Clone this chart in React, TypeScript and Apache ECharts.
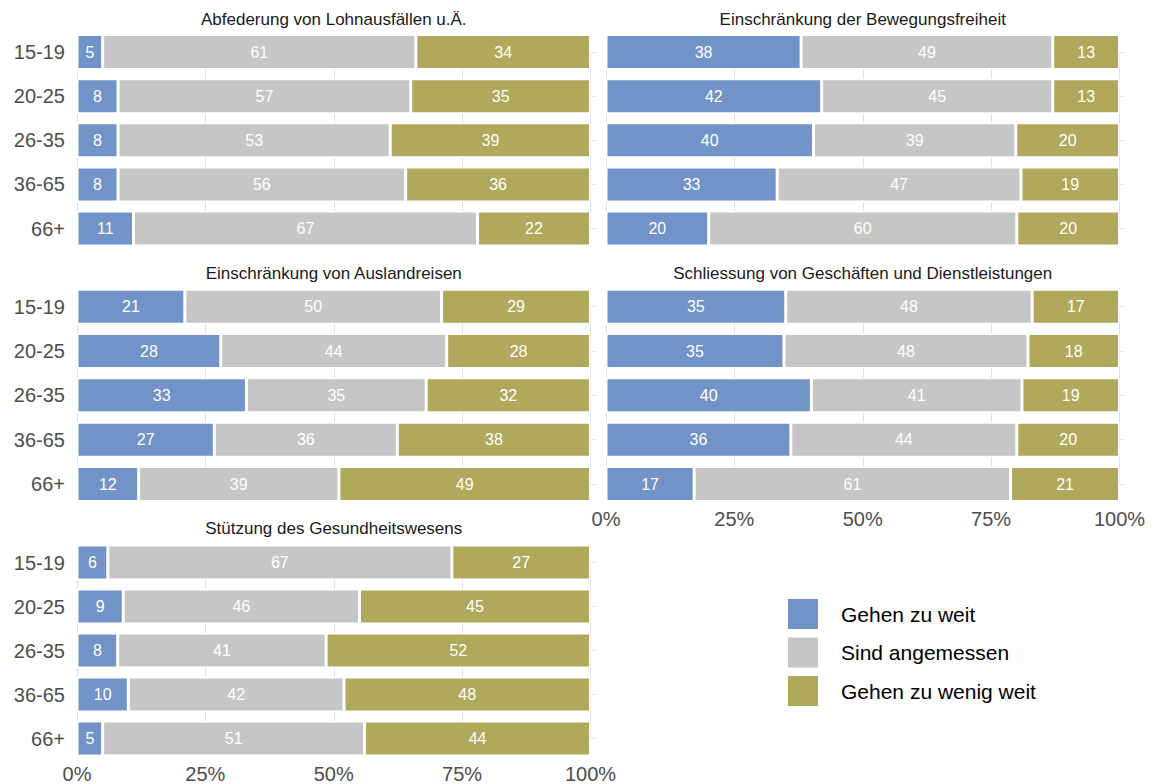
import React, { useEffect, useRef } from "react";
import * as echarts from "echarts";

// ---------- data ----------
const ages = ["15-19", "20-25", "26-35", "36-65", "66+"];
const answerNames = ["Gehen zu weit", "Sind angemessen", "Gehen zu wenig weit"];
const panelTitles = [
  "Abfederung von Lohnausfällen u.Ä.",
  "Einschränkung der Bewegungsfreiheit",
  "Einschränkung von Auslandreisen",
  "Schliessung von Geschäften und Dienstleistungen",
  "Stützung des Gesundheitswesens",
];
const tickLabels = ["0%", "25%", "50%", "75%", "100%"];

const lohnWeit = [5, 8, 8, 8, 11];
const lohnAngemessen = [61, 57, 53, 56, 67];
const lohnWenig = [34, 35, 39, 36, 22];

const bewegungWeit = [38, 42, 40, 33, 20];
const bewegungAngemessen = [49, 45, 39, 47, 60];
const bewegungWenig = [13, 13, 20, 19, 20];

const reisenWeit = [21, 28, 33, 27, 12];
const reisenAngemessen = [50, 44, 35, 36, 39];
const reisenWenig = [29, 28, 32, 38, 49];

const geschaefteWeit = [35, 35, 40, 36, 17];
const geschaefteAngemessen = [48, 48, 41, 44, 61];
const geschaefteWenig = [17, 18, 19, 20, 21];

const gesundheitWeit = [6, 9, 8, 10, 5];
const gesundheitAngemessen = [67, 46, 41, 42, 51];
const gesundheitWenig = [27, 45, 52, 48, 44];

const panelData = [
  [lohnWeit, lohnAngemessen, lohnWenig],
  [bewegungWeit, bewegungAngemessen, bewegungWenig],
  [reisenWeit, reisenAngemessen, reisenWenig],
  [geschaefteWeit, geschaefteAngemessen, geschaefteWenig],
  [gesundheitWeit, gesundheitAngemessen, gesundheitWenig],
];

// ---------- style ----------
const colors = ["#7193c7", "#c6c6c6", "#b0a85a"];
const FONT = "'Liberation Sans', Arial, Helvetica, sans-serif";
const AXIS_MAX = 101;

// panel layout
const colLeft = [77, 606];
const col100 = 513.5;
const rowTop = [52, 306.7, 562.5];
const rowHeight = [176.5, 177.3, 176];
const panelPos = [
  [0, 0],
  [1, 0],
  [0, 1],
  [1, 1],
  [0, 2],
];
const showXLabels = [false, false, false, true, true];
const titleY = [19, 273, 528];

export default function App() {
  const ref = useRef<HTMLDivElement>(null);

  useEffect(() => {
    document.body.style.margin = "0";
    if (!ref.current) return;
    const chart = echarts.init(ref.current, undefined, { renderer: "svg" });

    const grids: any[] = [];
    const xAxes: any[] = [];
    const yAxes: any[] = [];
    const series: any[] = [];
    const graphics: any[] = [];

    panelPos.forEach(([c, r], i) => {
      grids.push({
        left: colLeft[c],
        top: rowTop[r],
        width: (col100 * AXIS_MAX) / 100,
        height: rowHeight[r],
        containLabel: false,
      });
      xAxes.push({
        type: "value",
        gridIndex: i,
        min: 0,
        max: AXIS_MAX,
        interval: 25,
        axisLine: { show: false },
        axisTick: { show: false },
        splitLine: {
          show: true,
          lineStyle: {
            color: ["#e0e0e0", "#e0e0e0", "#e0e0e0", "#e0e0e0", "#e0e0e0", "rgba(0,0,0,0)"],
            width: 1,
          },
        },
        axisLabel: {
          show: showXLabels[i],
          fontSize: 20,
          fontFamily: FONT,
          color: "#4d4d4d",
          margin: 25,
          showMaxLabel: false,
          formatter: (v: number) => (v % 25 === 0 ? tickLabels[v / 25] : ""),
        },
      });
      yAxes.push({
        type: "category",
        gridIndex: i,
        data: ages,
        inverse: true,
        boundaryGap: false,
        axisLine: { show: false },
        axisTick: { show: false },
        splitLine: { show: true, interval: 0, lineStyle: { color: "#e3e3e3", width: 1 } },
        axisLabel: {
          show: c === 0,
          interval: 0,
          fontSize: 20,
          fontFamily: FONT,
          color: "#4d4d4d",
          margin: 12,
        },
      });

      const vals = panelData[i];
      const sums = ages.map((_, a) => vals[0][a] + vals[1][a] + vals[2][a]);
      vals.forEach((arr, k) => {
        series.push({
          type: "bar",
          name: answerNames[k],
          xAxisIndex: i,
          yAxisIndex: i,
          stack: "panel" + i,
          barWidth: 35,
          clip: false,
          itemStyle: { color: colors[k], borderColor: "#ffffff", borderWidth: 1.5 },
          label: {
            show: true,
            position: "inside",
            color: "#ffffff",
            fontSize: 16,
            fontFamily: FONT,
            formatter: (p: any) => String(p.data.raw),
          },
          emphasis: { disabled: true },
          data: arr.map((v, a) => ({ value: (v / sums[a]) * 100, raw: v })),
        });
      });

      graphics.push({
        type: "text",
        x: colLeft[c] + col100 / 2,
        y: titleY[r],
        style: {
          text: panelTitles[i],
          fontSize: 17,
          fontFamily: FONT,
          fill: "#1a1a1a",
          textAlign: "center",
          textVerticalAlign: "middle",
        },
      });
    });

    chart.setOption({
      animation: false,
      backgroundColor: "#ffffff",
      grid: grids,
      xAxis: xAxes,
      yAxis: yAxes,
      series,
      graphic: graphics,
      legend: {
        data: answerNames,
        orient: "vertical",
        left: 786,
        top: 597,
        icon: "rect",
        itemWidth: 32,
        itemHeight: 32,
        itemGap: 4.5,
        padding: 0,
        selectedMode: false,
        textStyle: {
          fontSize: 21,
          fontFamily: FONT,
          color: "#000000",
          padding: [0, 0, 0, 17],
        },
      },
    });

    return () => {
      chart.dispose();
    };
  }, []);

  return <div ref={ref} style={{ width: 1153, height: 784 }} />;
}
